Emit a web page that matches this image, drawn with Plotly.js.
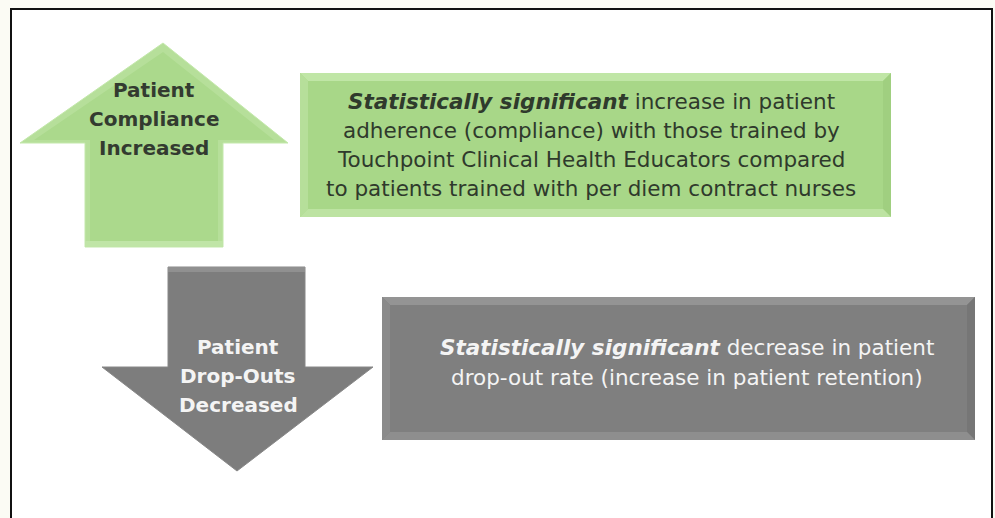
<!DOCTYPE html>
<html><head><meta charset="utf-8">
<script src="https://cdn.plot.ly/plotly-3.0.1.min.js"></script>
<style>html,body{margin:0;padding:0;background:#fbfbf4;}#chart{width:995px;height:518px;}</style>
</head><body><div id="chart"></div>
<script>
// Text content of the diagram
const upArrowLines = ["Patient", "Compliance", "Increased"];
const greenBoxLines = [
  "<b><i>Statistically significant</i></b> increase in patient",
  "adherence (compliance) with those trained by",
  "Touchpoint Clinical Health Educators compared",
  "to patients trained with per diem contract nurses"
];
const downArrowLines = ["Patient", "Drop-Outs", "Decreased"];
const grayBoxLines = [
  "<b><i>Statistically significant</i></b> decrease in patient",
  "drop-out rate (increase in patient retention)"
];

const FONT = "DejaVu Sans, sans-serif";
const shapes = [];
const annotations = [];

function poly(pts) {
  return "M " + pts.map(p => p[0] + "," + p[1]).join(" L ") + " Z";
}
function addPath(pts, fill, line) {
  shapes.push({type: "path", xref: "x", yref: "y", path: poly(pts), fillcolor: fill,
    line: line || {width: 0}, layer: "above"});
}
function bevelRect(x0, y0, x1, y1, d, c) {
  addPath([[x0,y0],[x1,y0],[x1,y1],[x0,y1]], c.main);
  addPath([[x0,y0],[x1,y0],[x1-d,y0+d],[x0+d,y0+d]], c.top);
  addPath([[x0,y0],[x0+d,y0+d],[x0+d,y1-d],[x0,y1]], c.left);
  addPath([[x1,y0],[x1,y1],[x1-d,y1-d],[x1-d,y0+d]], c.right);
  addPath([[x0,y1],[x0+d,y1-d],[x1-d,y1-d],[x1,y1]], c.bottom);
}
function textLines(lines, cx, y0, dy, size, color, bold) {
  lines.forEach((t, i) => annotations.push({
    xref: "x", yref: "y", x: cx, y: y0 + i * dy, text: bold ? "<b>" + t + "</b>" : t, showarrow: false,
    xanchor: "center", yanchor: "middle", font: {family: FONT, size: size, color: color}
  }));
}

// outer frame
shapes.push({type: "rect", xref: "x", yref: "y", x0: 11, y0: 9, x1: 992, y1: 540,
  fillcolor: "#ffffff", line: {color: "#111111", width: 2}, layer: "below"});

// Up arrow (green)
const up = [[163,43],[288,143],[223,143],[223,247],[85,247],[85,143],[20,143]];
addPath(up, "#b6df9a", {color: "#c4e8ac", width: 1});
addPath([[163,52],[274,140],[218,140],[218,241],[90,241],[90,140],[34,140]], "#abd98c");
addPath([[85,241],[223,241],[223,247],[85,247]], "#c0e5a7");

// Green box
bevelRect(300, 73, 891, 217, 8, {main: "#a8d788", top: "#c0e6a6", left: "#b6df9a", right: "#a0cf80", bottom: "#bde3a2"});

// Down arrow (gray)
const down = [[168,267],[305,267],[305,367],[373,367],[237,471],[102,367],[168,367]];
addPath(down, "#7d7d7d", {color: "#888888", width: 1});
addPath([[168,267],[305,267],[305,272],[168,272]], "#909090");

// Gray box
bevelRect(382, 297, 975, 440, 8, {main: "#7f7f7f", top: "#949494", left: "#8a8a8a", right: "#767676", bottom: "#8e8e8e"});

// Texts
textLines(upArrowLines, 154, 90, 29, 20, "#333b30", true);
textLines(greenBoxLines, 591, 101, 29, 21.5, "#2f3a2c", false);
textLines(downArrowLines, 238, 347, 29, 20, "#f4f4f4", true);
textLines(grayBoxLines, 687, 347, 30, 21.5, "#f4f4f4", false);

const layout = {
  width: 995, height: 518,
  margin: {l: 0, r: 0, t: 0, b: 0},
  paper_bgcolor: "#fbfbf4", plot_bgcolor: "rgba(0,0,0,0)",
  xaxis: {range: [0, 995], visible: false, fixedrange: true},
  yaxis: {range: [518, 0], visible: false, fixedrange: true},
  shapes: shapes, annotations: annotations, showlegend: false
};
Plotly.newPlot("chart", [{x: [], y: [], type: "scatter", hoverinfo: "skip"}], layout, {staticPlot: true});
</script></body></html>
